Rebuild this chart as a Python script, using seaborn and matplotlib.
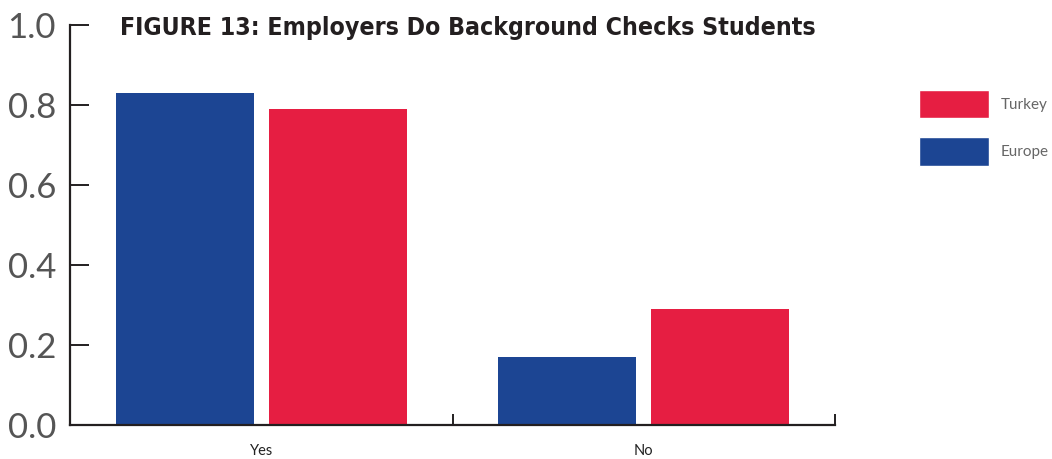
import matplotlib
matplotlib.use("Agg")
import matplotlib.pyplot as plt
import seaborn as sns
import pandas as pd
from matplotlib.patches import Patch
from matplotlib.ticker import FixedLocator
from matplotlib import font_manager as fm

categories = ["Yes", "No"]
europe = [0.83, 0.17]
turkey = [0.79, 0.29]
series_names = ["Europe", "Turkey"]
yticks = [0.0, 0.2, 0.4, 0.6, 0.8, 1.0]
title = "FIGURE 13: Employers Do Background Checks Students"

colors = {"Europe": "#1c4593", "Turkey": "#e61e42"}

df = pd.DataFrame({
    "answer": categories * 2,
    "region": ["Europe"] * len(categories) + ["Turkey"] * len(categories),
    "value": europe + turkey,
})

sns.set_style("white")
plt.rcParams["font.family"] = ["Lato", "DejaVu Sans"]

fig = plt.figure(figsize=(10.52, 4.59), dpi=100)
ax = fig.add_axes([70 / 1052, 1 - 425 / 459, (835 - 70) / 1052, 400 / 459])

sns.barplot(data=df, x="answer", y="value", hue="region", order=categories,
            hue_order=series_names, palette=colors, width=0.8, gap=0.1,
            saturation=1, linewidth=0, ax=ax, legend=False)

ax.set_xlim(-0.5, 1.5)
ax.set_ylim(0, 1.0)
ax.set_yticks(yticks)
ax.set_yticklabels([f"{v:.1f}" for v in yticks])
ax.set_xlabel("")
ax.set_ylabel("")

for s in ["top", "right"]:
    ax.spines[s].set_visible(False)
for s in ["left", "bottom"]:
    ax.spines[s].set_color("#231f20")
    ax.spines[s].set_linewidth(1.6)

ax.tick_params(axis="y", left=True, direction="in", length=14, width=1.4,
               color="#231f20", labelsize=25, labelcolor="#555555", pad=10)

ax.tick_params(axis="x", which="major", bottom=True, length=0, labelsize=10.5,
               labelcolor="#222222", pad=14)
ax.xaxis.set_minor_locator(FixedLocator([0.5, 1.5]))
ax.tick_params(axis="x", which="minor", bottom=True, direction="in", length=8,
               width=1.4, color="#231f20")

# condensed bold title, fitted to the reference width
title_fp = fm.FontProperties(family="DejaVu Sans", weight="bold",
                             stretch="condensed", size=23)
t = fig.text(120 / 1052, 1 - 28 / 459, title, fontproperties=title_fp,
             color="#231f20", va="center", ha="left")
fig.canvas.draw()
w = t.get_window_extent().width
t.set_fontsize(23 * 698 / w)

handles = [Patch(facecolor=colors["Turkey"], label="Turkey"),
           Patch(facecolor=colors["Europe"], label="Europe")]
fig.legend(handles=handles, loc="upper left",
           bbox_to_anchor=(905 / 1052, 1 - 76 / 459), frameon=False,
           fontsize=11, handlelength=4.6, handleheight=2.5,
           labelspacing=1.25, handletextpad=0.75, labelcolor="#666666")

fig.savefig("out.png", dpi=100)
